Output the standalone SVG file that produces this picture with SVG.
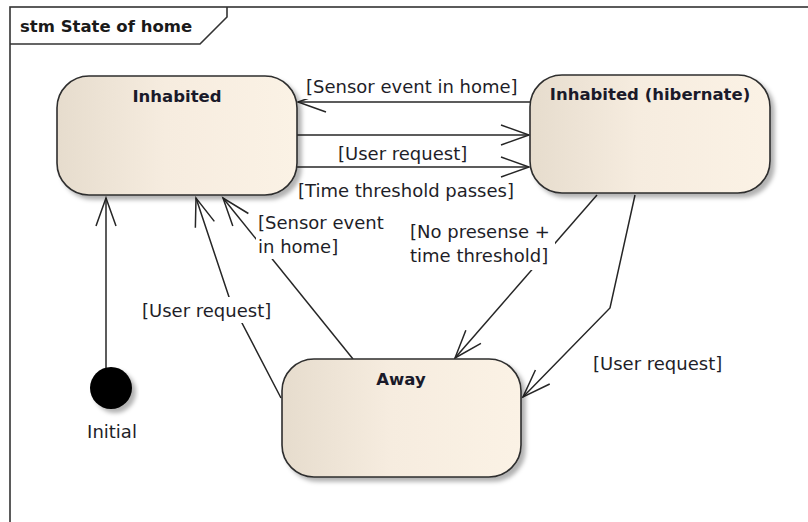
<svg xmlns="http://www.w3.org/2000/svg" width="808" height="522" viewBox="0 0 808 522">
  <style>
    .frame { fill: #ffffff; stroke: #333333; stroke-width: 1.6; }
    .title { font-family: "DejaVu Sans", Verdana, sans-serif; font-size: 16.5px; font-weight: bold; fill: #1a1a1a; }
    .state { fill: url(#stateFill); stroke: #2e2e2e; stroke-width: 1.6; filter: url(#shadow); }
    .name { font-family: "DejaVu Sans", Verdana, sans-serif; font-size: 16.5px; font-weight: bold; fill: #1a1a2a; text-anchor: middle; }
    .edge { fill: none; stroke: #262626; stroke-width: 1.5; marker-end: url(#open); }
    .lbl-bg { fill: #ffffff; stroke: none; }
    .lbl { font-family: "DejaVu Sans", Verdana, sans-serif; font-size: 18px; fill: #1e1e28; }
  </style>
  <defs>
    <linearGradient id="stateFill" x1="0" y1="0" x2="1" y2="0">
      <stop offset="0" stop-color="#e6dccd"/>
      <stop offset="0.45" stop-color="#f6ecdf"/>
      <stop offset="1" stop-color="#fbf2e5"/>
    </linearGradient>
    <filter id="shadow" x="-10%" y="-10%" width="125%" height="130%">
      <feDropShadow dx="4" dy="4" stdDeviation="2" flood-color="#000000" flood-opacity="0.3"/>
    </filter>
    <marker id="open" markerWidth="34" markerHeight="26" viewBox="-32 -13 34 26" refX="0" refY="0" orient="auto" markerUnits="userSpaceOnUse" overflow="visible">
      <path d="M-28,-10 L0,0 L-28,10" fill="none" stroke="#262626" stroke-width="1.5"/>
    </marker>
  </defs>

  <!-- state machine frame with its name tab -->
  <g id="frame">
    <rect class="frame" x="10" y="7" width="820" height="540"/>
    <path d="M10,44 L200,44 L227,17 L227,7" fill="none" stroke="#333333" stroke-width="1.6"/>
    <text class="title" x="20" y="32">stm State of home</text>
  </g>

  <!-- transitions -->
  <g id="connectors">
    <path class="edge" d="M106,368 L106,198"/>
    <path class="edge" d="M530,102 L298,102"/>
    <path class="edge" d="M297,135 L529,135"/>
    <path class="edge" d="M297,167 L529,167"/>
    <path class="edge" d="M281,398 L230,300 L196,198"/>
    <path class="edge" d="M353,359 L223,198"/>
    <path class="edge" d="M597,195 L455,358"/>
    <path class="edge" d="M635,195 L610,308 L523,397"/>
  </g>

  <!-- transition guards -->
  <g id="labels">
    <rect class="lbl-bg" x="303" y="73" width="224" height="26"/>
    <text class="lbl" x="306" y="93">[Sensor event in home]</text>

    <rect class="lbl-bg" x="336" y="142" width="130" height="22"/>
    <text class="lbl" x="338" y="160">[User request]</text>

    <rect class="lbl-bg" x="296" y="179" width="224" height="24"/>
    <text class="lbl" x="298" y="197">[Time threshold passes]</text>

    <rect class="lbl-bg" x="256" y="211" width="134" height="48"/>
    <text class="lbl" x="258" y="229">[Sensor event</text>
    <text class="lbl" x="258" y="253">in home]</text>

    <rect class="lbl-bg" x="140" y="297" width="130" height="26"/>
    <text class="lbl" x="142" y="317">[User request]</text>

    <rect class="lbl-bg" x="406" y="220" width="149" height="50"/>
    <text class="lbl" x="410" y="238">[No presense +</text>
    <text class="lbl" x="410" y="262">time threshold]</text>

    <rect class="lbl-bg" x="591" y="350" width="130" height="26"/>
    <text class="lbl" x="593" y="370">[User request]</text>
  </g>

  <!-- states -->
  <g id="inhabited">
    <rect class="state" x="57" y="76" width="240" height="119" rx="32" ry="32"/>
    <text class="name" x="177" y="102">Inhabited</text>
  </g>

  <g id="hibernate">
    <rect class="state" x="530" y="75" width="240" height="118" rx="32" ry="32"/>
    <text class="name" x="650" y="100">Inhabited (hibernate)</text>
  </g>

  <g id="away">
    <rect class="state" x="282" y="359" width="239" height="118" rx="32" ry="32"/>
    <text class="name" x="401" y="385">Away</text>
  </g>

  <g id="initial">
    <circle cx="111" cy="388" r="21" fill="#000000" filter="url(#shadow)"/>
    <text class="lbl" x="112" y="438" text-anchor="middle">Initial</text>
  </g>
</svg>
